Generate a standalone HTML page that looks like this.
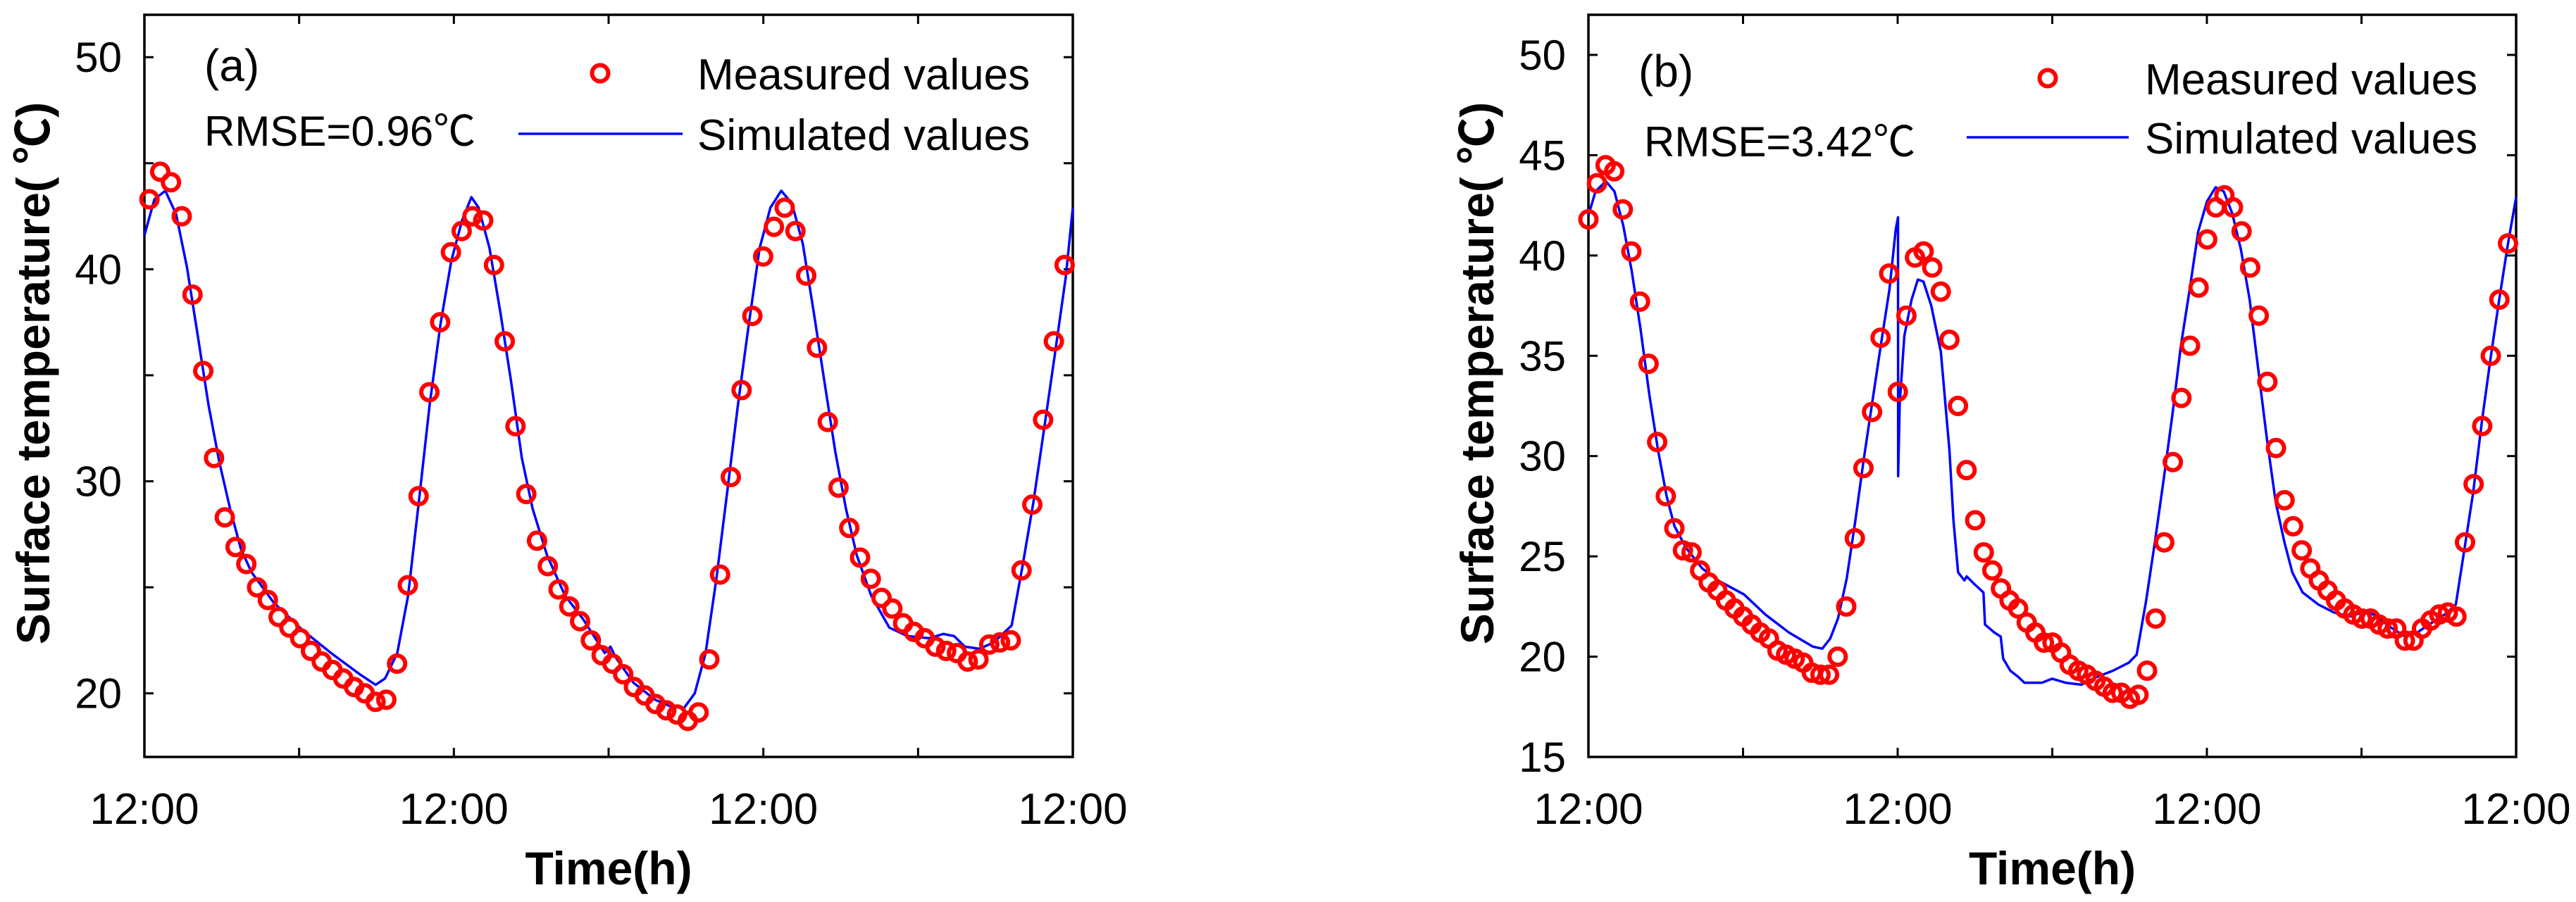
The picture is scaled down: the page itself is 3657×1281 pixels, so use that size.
<!DOCTYPE html>
<html><head><meta charset="utf-8"><style>
html,body{margin:0;padding:0;background:#fff}
svg{display:block}
text{font-family:"Liberation Sans","Noto Sans CJK SC","WenQuanYi Zen Hei",sans-serif}
</style></head><body>
<svg id="fig" width="3657" height="1281" viewBox="0 0 3657 1281" xmlns="http://www.w3.org/2000/svg"></svg>
<script>
// ---- Panel (a) data ----
const measA_t0 = 0.39, measA_dt = 0.835;
const measA_values = [43.3,44.6,44.1,42.5,38.8,35.2,31.1,28.3,26.9,26.1,25.0,24.4,23.6,23.1,22.6,22.0,21.5,21.1,20.7,20.3,20.0,19.6,19.7,21.4,25.1,29.3,34.2,37.5,40.8,41.8,42.5,42.3,40.2,36.6,32.6,29.4,27.2,26.0,24.9,24.1,23.4,22.5,21.8,21.4,20.9,20.3,19.9,19.5,19.2,19.0,18.7,19.1,21.6,25.6,30.2,34.3,37.8,40.6,42.0,42.9,41.8,39.7,36.3,32.8,29.7,27.8,26.4,25.4,24.5,24.0,23.3,22.9,22.6,22.2,22.0,21.9,21.5,21.6,22.3,22.4,22.5,25.8,28.9,32.9,36.6,40.2];
const simA_times = [0,0.78,1.62,2.46,3.30,4.13,4.97,5.81,6.65,7.49,8.32,10.0,12.23,14.47,16.70,17.93,18.66,19.61,20.45,21.28,22.12,22.96,23.80,24.64,25.36,25.92,26.76,27.60,28.44,29.27,30.11,31.23,32.63,34.02,35.70,36.15,36.54,37.93,39.61,40.73,41.84,42.68,43.52,44.36,45.20,46.03,46.87,47.71,48.55,49.39,50.22,51.06,51.90,52.74,53.58,54.41,55.25,56.37,57.77,59.16,60.84,61.96,62.79,63.63,64.75,65.87,67.26,68.10,68.94,69.78,70.61,71.45,72.0];
const simA_values = [41.6,43.3,43.7,42.6,40.1,36.9,33.6,30.9,28.7,26.8,25.7,24.3,23.0,21.9,20.9,20.4,20.7,21.9,24.6,29.0,33.6,37.4,40.4,42.3,43.4,42.9,41.0,38.0,34.7,31.1,28.7,26.5,24.6,23.5,21.9,22.2,21.7,20.5,19.7,19.4,19.3,20.0,21.9,25.4,29.5,33.6,37.4,41.0,42.9,43.7,43.1,41.2,38.0,34.7,31.4,28.7,26.5,24.6,23.1,22.7,22.6,22.8,22.7,22.2,22.1,22.4,23.2,26.0,29.0,32.5,36.0,39.6,42.9];
const yTicksA = [20,30,40,50];
// ---- Panel (b) data ----
const measB_t0 = 0, measB_dt = 0.667;
const measB_values = [41.8,43.6,44.5,44.2,42.3,40.2,37.7,34.6,30.7,28.0,26.4,25.3,25.2,24.3,23.7,23.3,22.8,22.4,22.0,21.6,21.2,20.9,20.3,20.1,19.9,19.7,19.2,19.1,19.1,20.0,22.5,25.9,29.4,32.2,35.9,39.1,33.2,37.0,39.9,40.2,39.4,38.2,35.8,32.5,29.3,26.8,25.2,24.3,23.4,22.8,22.4,21.7,21.2,20.7,20.7,20.2,19.6,19.3,19.1,18.8,18.5,18.2,18.2,17.9,18.1,19.3,21.9,25.7,29.7,32.9,35.5,38.4,40.8,42.4,43.0,42.4,41.2,39.4,37.0,33.7,30.4,27.8,26.5,25.3,24.4,23.8,23.3,22.8,22.4,22.1,21.9,21.9,21.6,21.4,21.4,20.8,20.8,21.4,21.8,22.1,22.2,22.0,25.7,28.6,31.5,35.0,37.8,40.6];
const simB_times = [0,0.55,1.35,2.02,2.70,3.37,4.05,4.72,5.40,6.07,6.68,7.60,8.83,10.06,12.08,13.73,15.57,17.41,18.15,18.76,19.37,20.05,20.72,21.34,22.01,22.69,23.36,23.85,24.03,24.04,24.16,24.52,25.08,25.57,26.00,26.61,27.35,28.02,28.33,28.69,29.18,29.36,29.98,30.66,30.78,31.51,32.00,32.19,32.74,33.35,33.84,35.19,35.99,37.03,38.26,39.49,40.71,41.94,42.55,43.29,43.96,44.64,45.31,45.98,46.66,47.33,48.01,48.68,49.30,49.97,50.64,51.32,51.99,52.67,53.34,54.02,54.63,55.43,56.65,57.88,59.11,60.02,60.94,62.17,63.40,64.32,65.24,66.46,67.32,68.00,68.67,69.34,70.02,70.69,71.37,72.0];
const simB_values = [42.0,43.2,43.7,43.2,41.5,39.2,36.3,33.1,30.3,28.0,26.5,25.4,24.4,23.8,23.1,22.1,21.2,20.5,20.4,20.9,21.9,23.9,26.8,29.7,32.6,35.5,38.3,41.3,41.9,29.0,32.6,36.0,37.8,38.8,38.7,37.5,35.2,30.3,26.8,24.2,23.8,24.0,23.6,23.2,21.6,21.2,21.0,19.9,19.3,19.0,18.7,18.7,18.9,18.7,18.6,19.0,19.3,19.7,20.1,22.8,25.7,28.8,32.0,35.5,38.3,41.2,42.7,43.4,43.2,42.1,40.3,37.8,34.3,30.8,27.7,25.7,24.2,23.2,22.6,22.2,22.0,22.2,22.1,21.5,21.0,21.2,21.6,22.1,22.6,25.4,28.2,31.7,34.9,37.8,40.6,42.9];
const yTicksB = [15,20,25,30,35,40,45,50];
const xTickHours = [0,12,24,36,48,60,72];
const xLabelHours = [0,24,48,72];
const xLabelText = ["12:00","12:00","12:00","12:00"];

const NS = "http://www.w3.org/2000/svg";
const svg = document.getElementById('fig');
function mk(tag, attrs, parent, txt){
  const e = document.createElementNS(NS, tag);
  for (const k in attrs) e.setAttribute(k, attrs[k]);
  if (txt !== undefined) e.textContent = txt;
  (parent||svg).appendChild(e);
  return e;
}

function drawPanel(p){
  const g = mk('g', {});
  
  
  const L=p.L, R=p.R, T=p.T, B=p.B;
  const xs = h => L + (h/72)*(R-L);
  const ys = v => B - (v - p.ymin)/(p.ymax - p.ymin)*(B-T);
  xTickHours.forEach(h=>{
    const t1 = mk('line',{x1:xs(h),x2:xs(h),y1:B,y2:B-13,stroke:'#000','stroke-width':3},g);
    
    
    const t2 = mk('line',{x1:xs(h),x2:xs(h),y1:T,y2:T+13,stroke:'#000','stroke-width':3},g);
    
    
  });
  for (let v=Math.ceil(p.ymin/5)*5; v<=p.ymax; v+=5){
    const t1 = mk('line',{x1:L,x2:L+13,y1:ys(v),y2:ys(v),stroke:'#000','stroke-width':3},g);
    
    
    const t2 = mk('line',{x1:R,x2:R-13,y1:ys(v),y2:ys(v),stroke:'#000','stroke-width':3},g);
    
    
  }
  const frame = mk('rect',{x:L,y:T,width:R-L,height:B-T,fill:'none',stroke:'#000','stroke-width':3.5},g);
  
  
  p.yTicks.forEach(v=>{
    const t = mk('text',{x:L-32,y:ys(v)+21,'font-size':60,'text-anchor':'end'},g,String(v));
    
    
  });
  xLabelHours.forEach((h,i)=>{
    const t = mk('text',{x:xs(h),y:1170,'font-size':62,'text-anchor':'middle'},g,xLabelText[i]);
    
    
  });
  const xt = mk('text',{x:(L+R)/2,y:1256,'font-size':66,'font-weight':'bold','text-anchor':'middle'},g,'Time(h)');
  
  
  const yt = mk('text',{x:0,y:0,'font-size':66,'font-weight':'bold','text-anchor':'middle',transform:`translate(${p.ytX},530) rotate(-90)`},g,'Surface temperature(  ℃)');
  
  
  let d='';
  p.simT.forEach((h,i)=>{ d += (i?'L':'M') + xs(h).toFixed(1) + ' ' + ys(p.simV[i]).toFixed(1) + ' '; });
  const line = mk('path',{d:d,fill:'none',stroke:'#0000ff','stroke-width':3.5,'stroke-linejoin':'round'},g);
  
  
  p.measV.forEach((v,i)=>{
    const c = mk('circle',{cx:xs(p.t0 + i*p.dt),cy:ys(v),r:11.5,fill:'none',stroke:'#ff0000','stroke-width':6},g);
    
    
  });
  const pl = mk('text',{x:p.lblX,y:p.lblY,'font-size':64,'font-family':'Liberation Serif, serif'},g,p.label);
  
  
  const rm = mk('text',{x:p.rmX,y:p.rmY,'font-size':60},g,p.rmse);
  
  
  const lm = mk('circle',{cx:p.legMX,cy:p.legMY,r:11.5,fill:'none',stroke:'#ff0000','stroke-width':6},g);
  
  
  const lt1 = mk('text',{x:p.legTX,y:p.legMY+23,'font-size':62},g,'Measured values');
  
  
  const ll = mk('line',{x1:p.legL1,x2:p.legL2,y1:p.legLY,y2:p.legLY,stroke:'#0000ff','stroke-width':3.5},g);
  
  
  const lt2 = mk('text',{x:p.legTX,y:p.legLY+23,'font-size':62},g,'Simulated values');
  
  
}

drawPanel({id:'panel-a',L:205,R:1523,T:21,B:1075,ymin:17,ymax:52,yTicks:yTicksA,ytX:70,
  simT:simA_times,simV:simA_values,measV:measA_values,t0:measA_t0,dt:measA_dt,
  label:'(a)',lblX:290,lblY:115,rmse:'RMSE=0.96℃',rmX:290,rmY:207,
  legMX:852,legMY:104,legTX:990,legL1:736,legL2:969,legLY:190});
drawPanel({id:'panel-b',L:2255,R:3572,T:21,B:1075,ymin:15,ymax:52,yTicks:yTicksB,ytX:2120,
  simT:simB_times,simV:simB_values,measV:measB_values,t0:measB_t0,dt:measB_dt,
  label:'(b)',lblX:2326,lblY:123,rmse:'RMSE=3.42℃',rmX:2334,rmY:222,
  legMX:2907,legMY:111,legTX:3045,legL1:2792,legL2:3022,legLY:195});
</script>
</body></html>
